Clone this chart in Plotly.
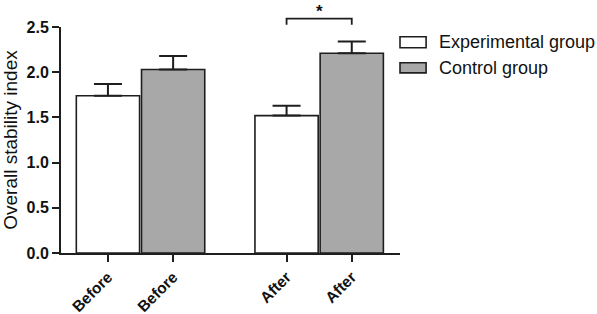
import plotly.graph_objects as go

# ---- data ----
groups = ["Before", "After"]
series = ["Experimental group", "Control group"]
exp_mean = [1.74, 1.52]
exp_sem = [0.13, 0.11]
ctrl_mean = [2.03, 2.21]
ctrl_sem = [0.15, 0.13]
y_ticks = [0.0, 0.5, 1.0, 1.5, 2.0, 2.5]
sig_label = "*"

# ---- layout helpers ----
group_step = 2.74
exp_x = [i * group_step for i in range(len(groups))]
ctrl_x = [i * group_step + 1 for i in range(len(groups))]
font_family = "Liberation Sans, Arial, Helvetica, sans-serif"
edge = "#1e1e1e"
gray = "#a8a8a8"

fig = go.Figure()
fig.add_trace(go.Bar(
    x=exp_x, y=exp_mean, width=0.97, name=series[0],
    marker=dict(color="white", line=dict(color=edge, width=1.6)),
    error_y=dict(type="data", symmetric=False, array=exp_sem,
                 arrayminus=[0] * len(exp_sem), color=edge, thickness=2, width=14),
    showlegend=False,
))
fig.add_trace(go.Bar(
    x=ctrl_x, y=ctrl_mean, width=0.97, name=series[1],
    marker=dict(color=gray, line=dict(color=edge, width=1.6)),
    error_y=dict(type="data", symmetric=False, array=ctrl_sem,
                 arrayminus=[0] * len(ctrl_sem), color=edge, thickness=2, width=14),
    showlegend=False,
))

tickvals = []
ticktext = []
for i, g in enumerate(groups):
    tickvals += [exp_x[i], ctrl_x[i]]
    ticktext += [g, g]

# significance bracket between "After" bars
bx0, bx1 = exp_x[1], ctrl_x[1]
shapes = [
    dict(type="path", xref="x", yref="paper",
         path=f"M {bx0},1.010 L {bx0},1.037 L {bx1},1.037 L {bx1},1.010",
         line=dict(color=edge, width=1.8)),
]
# custom legend boxes
legend_rows = [(0.957, 0.908, "white"), (0.842, 0.797, gray)]
annotations = []
for (y0, y1, col), name in zip(legend_rows, series):
    shapes.append(dict(type="rect", xref="paper", yref="paper",
                       x0=1.0, x1=1.077, y0=y1, y1=y0,
                       fillcolor=col, line=dict(color=edge, width=1.6)))
    annotations.append(dict(xref="paper", yref="paper", x=1.109, y=(y0 + y1) / 2,
                            xanchor="left", yanchor="middle", text=name, showarrow=False,
                            font=dict(family=font_family, size=18, color="#111")))
annotations.append(dict(xref="x", yref="paper", x=(bx0 + bx1) / 2, y=1.121,
                        xanchor="center", yanchor="top", text=sig_label, showarrow=False,
                        font=dict(family=font_family, size=17, color="#111", weight="bold")))

fig.update_layout(
    width=597, height=314,
    margin=dict(l=61, r=197, t=27, b=61, pad=0),
    paper_bgcolor="white", plot_bgcolor="white",
    barmode="overlay",
    shapes=shapes, annotations=annotations,
    font=dict(family=font_family, color="#111"),
)
fig.update_xaxes(
    range=[-0.72, 4.48], tickvals=tickvals, ticktext=ticktext, tickangle=-45,
    showline=True, linecolor=edge, linewidth=2, showgrid=False, zeroline=False,
    ticks="outside", ticklen=7, tickwidth=2, tickcolor=edge, automargin=False,
    tickfont=dict(family=font_family, size=15.5, color="#111", weight="bold"),
)
fig.update_yaxes(
    range=[0, 2.5], tickvals=y_ticks, tickformat=".1f",
    showline=True, linecolor=edge, linewidth=2, showgrid=False, zeroline=False,
    ticks="outside", ticklen=7, tickwidth=2, tickcolor=edge, automargin=False,
    tickfont=dict(family=font_family, size=16, color="#111", weight="bold"),
    title=dict(text="Overall stability index", standoff=5,
               font=dict(family=font_family, size=19, color="#111")),
)

fig.write_html("out.html", config={"displayModeBar": False},
               post_script="document.body.style.margin='0';")
